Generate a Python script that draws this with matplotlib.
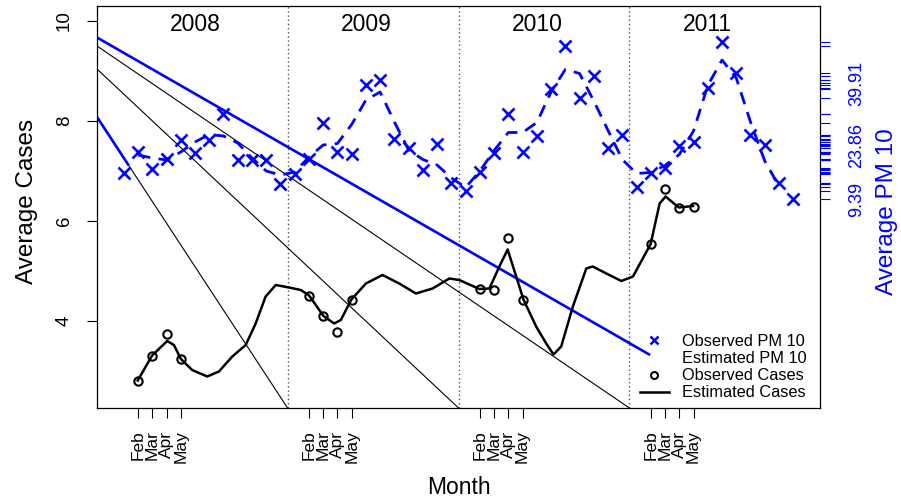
import numpy as np
import matplotlib
matplotlib.use("Agg")
import matplotlib.pyplot as plt
from matplotlib.lines import Line2D

plt.rcParams['font.family'] = ['Liberation Sans', 'DejaVu Sans']

# months counted from Jan 2008 = 1
months = np.arange(1, 49)
pm_obs = [6.97, 7.39, 7.05, 7.25, 7.63, 7.37, 7.62, 8.14, 7.23, 7.22, 7.23, 6.74,
          6.94, 7.25, 7.96, 7.39, 7.34, 8.72, 8.82, 7.64, 7.47, 7.02, 7.54, 6.77,
          6.61, 6.98, 7.36, 8.15, 7.39, 7.71, 8.65, 9.51, 8.46, 8.91, 7.46, 7.72,
          6.69, 6.96, 7.07, 7.51, 7.58, 8.67, 9.59, 8.96, 7.72, 7.52, 6.77, 6.44]

pm_est_months = np.arange(2, 48)
pm_est = [7.32, 7.26, 7.22, 7.38, 7.58, 7.73, 7.70, 7.56, 7.26, 7.00, 6.92, 6.98,
          7.28, 7.52, 7.55, 7.93, 8.42, 8.58, 7.98, 7.42, 7.23, 7.12, 6.86, 6.67,
          7.00, 7.41, 7.77, 7.77, 7.97, 8.58, 9.03, 8.95, 8.40, 7.81, 7.23, 6.95,
          6.97, 7.11, 7.33, 7.80, 8.71, 9.22, 8.86, 7.98, 7.20, 6.70]

case_months = [2, 3, 4, 5, 14, 15, 16, 17, 26, 27, 28, 29, 38, 39, 40, 41]
case_obs = [2.81, 3.31, 3.74, 3.24, 4.51, 4.10, 3.79, 4.43,
            4.64, 4.62, 5.67, 4.43, 5.54, 6.65, 6.27, 6.29]

case_est_months = [1.98, 2.99, 4.05, 4.52, 5.01, 5.80, 6.86, 7.68, 8.62, 9.56,
                   10.26, 10.96, 11.67, 12.60, 13.43, 14.01, 15.02, 15.77, 16.24,
                   16.98, 18.00, 19.16, 20.34, 21.51, 22.68, 23.86, 24.56, 25.96,
                   26.67, 27.37, 27.95, 28.55, 29.06, 29.95, 30.66, 31.17, 31.71,
                   32.53, 33.47, 33.93, 34.88, 35.93, 36.75, 37.99, 38.62, 39.04,
                   39.96, 40.97]
case_est = [2.81, 3.31, 3.60, 3.52, 3.24, 3.02, 2.89, 2.99, 3.29, 3.52,
            3.95, 4.49, 4.72, 4.67, 4.62, 4.51, 4.10, 3.95, 4.02,
            4.43, 4.75, 4.92, 4.75, 4.55, 4.65, 4.85, 4.82, 4.64,
            4.65, 5.09, 5.43, 4.89, 4.43, 3.89, 3.55, 3.33, 3.49,
            4.29, 5.05, 5.09, 4.95, 4.80, 4.89, 5.54, 6.35, 6.49,
            6.27, 6.30]

# straight lines running from the left edge down to the bottom
x_left, y_bottom = -0.88, 2.26
trend_start = [8.08, 9.04, 9.50]
trend_end = [12.5, 24.5, 36.5]
pm_trend_x = [x_left, 37.95]
pm_trend_y = [9.67, 3.32]
pm_short_x = [x_left, 1.35]
pm_short_y = [8.08, 7.11]

year_sep = [12.5, 24.5, 36.5]
years = ['2008', '2009', '2010', '2011']
year_mid = [6, 18, 30, 42]
tick_months = case_months
tick_labels = ['Feb', 'Mar', 'Apr', 'May'] * 4

pm_label_pos = [6.44, 7.52, 8.76]
pm_labels = ['9.39', '23.86', '39.91']

W, H = 901, 499
fig = plt.figure(figsize=(W / 100, H / 100), dpi=100)
ax = fig.add_axes([97 / W, 91 / H, 723 / W, 402 / H])
ax.set_xlim(x_left, 49.88)
ax.set_ylim(y_bottom, 10.3)

for s in year_sep:
    ax.axvline(s, color='#555555', ls=(0, (1, 2)), lw=1.0)
for yr, m in zip(years, year_mid):
    ax.text(m, 9.94, yr, ha='center', va='center', fontsize=16.5)

for y0, x1 in zip(trend_start, trend_end):
    ax.plot([x_left, x1], [y0, y_bottom], color='black', lw=0.8)
ax.plot(pm_trend_x, pm_trend_y, color='blue', lw=1.9, solid_capstyle='butt')
ax.plot(pm_short_x, pm_short_y, color='blue', lw=1.9, solid_capstyle='butt')

ax.plot(case_est_months, case_est, color='black', lw=1.8)
ax.plot(case_months, case_obs, ls='none', marker='o', ms=6, mfc='none',
        mec='black', mew=1.5)
ax.plot(months, pm_obs, ls='none', marker='x', ms=8.5, color='blue', mew=1.9)
ax.plot(pm_est_months, pm_est, color='blue', lw=2.0, dashes=(4.5, 3))

for sp in ax.spines.values():
    sp.set_linewidth(0.9)

ax.set_yticks([4, 6, 8, 10])
ax.set_yticklabels(['4', '6', '8', '10'])
ax.tick_params(axis='y', length=7.2, width=0.8, pad=10, labelsize=13.5,
               labelrotation=90)
for lab in ax.get_yticklabels():
    lab.set_va('center')
ax.set_xticks(tick_months)
ax.set_xticklabels(tick_labels, rotation=90)
ax.tick_params(axis='x', length=7.2, width=0.8, pad=9, labelsize=12.5)

ax2 = ax.twinx()
ax2.set_ylim(ax.get_ylim())
ax2.set_yticks(pm_label_pos)
ax2.set_yticklabels(pm_labels)
ax2.set_yticks(pm_obs, minor=True)
ax2.tick_params(axis='y', which='both', colors='blue', length=7.2, width=0.8,
                pad=13, labelsize=13, labelrotation=90)
for lab in ax2.get_yticklabels():
    lab.set_va('center')
for sp in ax2.spines.values():
    sp.set_visible(False)

fig.text(27 / W, 1 - 201 / H, 'Average Cases', rotation=90, ha='center',
         va='center', fontsize=17.5)
fig.text(887 / W, 1 - 212 / H, 'Average PM 10', rotation=90, ha='center',
         va='center', fontsize=17.5, color='blue')
fig.text(459 / W, 1 - 487 / H, 'Month', ha='center', va='center', fontsize=16.5)

handles = [
    Line2D([], [], ls='none', marker='x', ms=6, color='blue', mew=1.8),
    Line2D([], [], ls='none'),
    Line2D([], [], ls='none', marker='o', ms=5, mfc='none', mec='black', mew=1.5),
    Line2D([], [], color='black', lw=1.8),
]
labels = ['Observed PM 10', 'Estimated PM 10', 'Observed Cases', 'Estimated Cases']
ax.legend(handles, labels, loc='upper left', bbox_to_anchor=(640 / W, 1 - 334 / H),
          bbox_transform=fig.transFigure, frameon=False, fontsize=11.8,
          handlelength=1.75, handletextpad=0.8, labelspacing=0.13,
          borderpad=0, borderaxespad=0)

fig.savefig('out.png', dpi=100)
